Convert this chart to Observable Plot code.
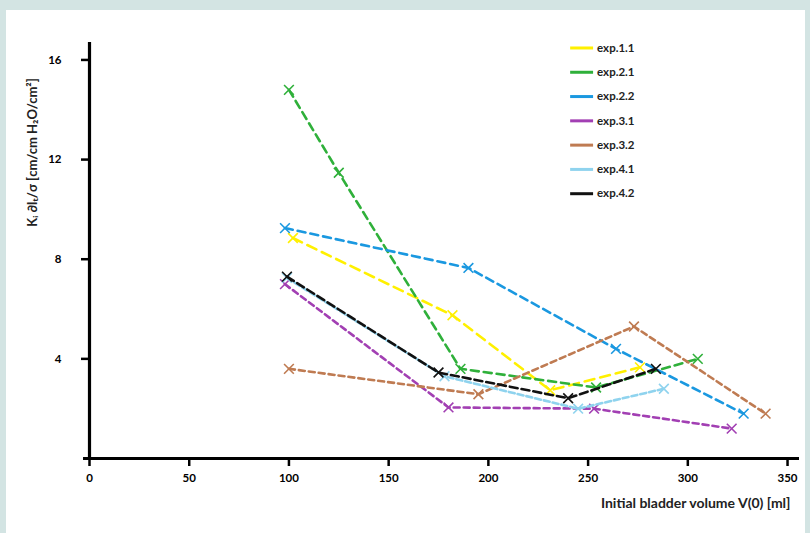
<!DOCTYPE html>
<html>
<head>
<meta charset="utf-8">
<script src="https://cdn.jsdelivr.net/npm/d3@7"></script>
<script src="https://cdn.jsdelivr.net/npm/@observablehq/plot@0.6"></script>
<style>
  html, body { margin: 0; padding: 0; background: #d3e4e3; }
  #wrap { position: absolute; left: 6px; top: 10px; width: 799px; height: 523px; background: #fff; }
  svg { font-family: Lato, "Open Sans", sans-serif; }
</style>
</head>
<body>
<div id="wrap"></div>
<script>
// ---- data ----
const seriesNames = ["exp.1.1", "exp.2.1", "exp.2.2", "exp.3.1", "exp.3.2", "exp.4.1", "exp.4.2"];
const seriesColors = ["#fff000", "#2fb03a", "#1a98e0", "#a23fb3", "#bf7b52", "#8fd3ee", "#111111"];
const seriesDash = ["10,6", "8,5", "8,5", "6,4", "6,4", "6,3", "8,4"];

const exp11V = [102, 182, 231, 276];
const exp11K = [8.85, 5.75, 2.74, 3.66];
const exp21V = [100, 125, 186, 254, 305];
const exp21K = [14.8, 11.47, 3.6, 2.85, 4.0];
const exp22V = [98, 190, 264, 328];
const exp22K = [9.25, 7.65, 4.4, 1.8];
const exp31V = [98, 180, 253, 322];
const exp31K = [7.0, 2.05, 2.0, 1.2];
const exp32V = [100, 195, 273, 339];
const exp32K = [3.6, 2.58, 5.3, 1.8];
const exp41V = [99, 178, 245, 288];
const exp41K = [7.25, 3.3, 2.0, 2.8];
const exp42V = [99, 175, 240, 284];
const exp42K = [7.3, 3.45, 2.42, 3.6];

const xTicks = [0, 50, 100, 150, 200, 250, 300, 350];
const yTicks = [4, 8, 12, 16];
const xLabel = "Initial bladder volume V(0) [ml]";
const yLabel = "Kᵢ ∂lₜ/σ [cm/cm H₂O/cm²]";

const allV = [exp11V, exp21V, exp22V, exp31V, exp32V, exp41V, exp42V];
const allK = [exp11K, exp21K, exp22K, exp31K, exp32K, exp41K, exp42K];
const series = seriesNames.map((name, i) => ({
  name, color: seriesColors[i], dash: seriesDash[i],
  pts: allV[i].map((v, j) => ({v, k: allK[i][j]}))
}));

// legend rows in data space
const legend = seriesNames.map((name, i) => ({name, color: seriesColors[i], row: i}));
const legY = d => 16.48 - d.row * 0.975;

const marks = [];
series.forEach(s => {
  marks.push(Plot.line(s.pts, {x: "v", y: "k", stroke: s.color, strokeWidth: 2.6, strokeDasharray: s.dash}));
  marks.push(Plot.dot(s.pts, {x: "v", y: "k", symbol: "times", r: 4.5, stroke: s.color, strokeWidth: 1.6}));
});

const chart = Plot.plot({
  width: 799,
  height: 523,
  marginLeft: 83,
  marginRight: 6,
  marginTop: 32,
  marginBottom: 75,
  style: {background: "transparent", fontFamily: "Lato, 'Open Sans', sans-serif"},
  x: {domain: [0, 356]},
  y: {domain: [0, 16.7]},
  marks: [
    Plot.axisX({ticks: xTicks, tickSize: 8, tickPadding: 7, fontSize: 11.5, fontWeight: "bold", label: null, strokeWidth: 2.5}),
    Plot.axisY({ticks: yTicks, tickSize: 8, tickPadding: 20, fontSize: 11.5, fontWeight: "bold", label: null, strokeWidth: 2.5}),
    Plot.ruleX([0], {stroke: "#000", strokeWidth: 3.2, y1: -0.07, y2: 16.7}),
    Plot.ruleY([0], {stroke: "#000", strokeWidth: 3.2, x1: -3, x2: 356}),
    ...marks,
    Plot.link(legend, {x1: 241, x2: 252.5, y1: legY, y2: legY, stroke: "color", strokeWidth: 3}),
    Plot.text(legend, {x: 254.5, y: legY, text: "name", textAnchor: "start", fontSize: 11.5, fontWeight: "bold", fill: "#222"}),
    Plot.text([xLabel], {frameAnchor: "bottom-right", dx: -9, dy: 49, textAnchor: "end", fontSize: 14, fontWeight: "bold", fill: "#222"}),
    Plot.text([yLabel], {frameAnchor: "top-left", dx: -62, dy: 110, rotate: -90, textAnchor: "middle", fontSize: 13, fontWeight: "bold", fill: "#222"})
  ]
});
document.getElementById("wrap").appendChild(chart);
</script>
</body>
</html>
